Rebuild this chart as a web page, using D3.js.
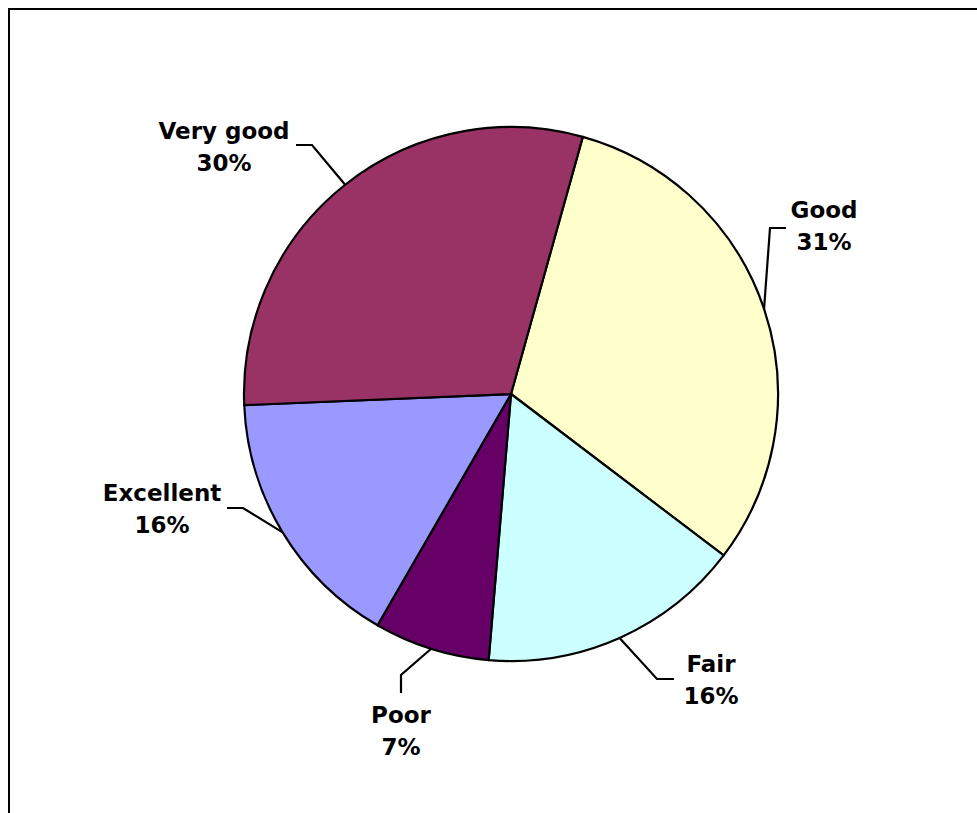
<!DOCTYPE html>
<html>
<head>
<meta charset="utf-8">
<script src="https://cdn.jsdelivr.net/npm/d3@7"></script>
<style>
  html, body { margin: 0; padding: 0; background: #fff; }
  svg { display: block; }
</style>
</head>
<body>
<svg id="chart" width="977" height="813"></svg>
<script>
// Self-rated health: share of respondents per category
const categories = ["Good", "Fair", "Poor", "Excellent", "Very good"];
const shares = [31, 16, 7, 16, 30];
const sliceColors = ["#FFFFCC", "#CCFFFF", "#660066", "#9999FF", "#993366"];

const W = 977, H = 813;
const cx = 511, cy = 394, R = 267;
const startDeg = 15.6;   // first slice ("Good") begins just right of 12 o'clock

// Label placement, relative to the pie centre: text anchor, leader elbow and leader end
const labelLayout = {
  "Very good": { tx: -287, ty: -255, elbow: [-199, -249], end: [-215, -249] },
  "Good":      { tx:  313, ty: -176, elbow: [ 259, -166], end: [ 275, -166] },
  "Excellent": { tx: -349, ty:  107, elbow: [-268,  114], end: [-284,  114] },
  "Poor":      { tx: -110, ty:  329, elbow: [-110,  281], end: [-110,  299] },
  "Fair":      { tx:  200, ty:  278, elbow: [ 146,  285], end: [ 163,  285] }
};

const svg = d3.select("#chart");

// Chart frame (top and left edges)
svg.append("path")
  .attr("d", `M9,${H} L9,9 L${W},9`)
  .attr("fill", "none")
  .attr("stroke", "#000")
  .attr("stroke-width", 2);

const data = categories.map((c, i) => ({ name: c, value: shares[i], color: sliceColors[i] }));

const start = startDeg * Math.PI / 180;
const pie = d3.pie()
  .value(d => d.value)
  .sort(null)
  .startAngle(start)
  .endAngle(start + 2 * Math.PI);

const arc = d3.arc().innerRadius(0).outerRadius(R);
const arcs = pie(data);

const g = svg.append("g").attr("transform", `translate(${cx},${cy})`);

g.selectAll("path.slice")
  .data(arcs)
  .join("path")
  .attr("class", "slice")
  .attr("d", arc)
  .attr("fill", d => d.data.color)
  .attr("stroke", "#000")
  .attr("stroke-width", 2.2)
  .attr("stroke-linejoin", "round");

// Leader lines from each slice's mid-arc point to its label
const edgePoint = d => {
  const a = (d.startAngle + d.endAngle) / 2;
  return [R * Math.sin(a), -R * Math.cos(a)];
};

g.selectAll("path.leader")
  .data(arcs)
  .join("path")
  .attr("class", "leader")
  .attr("fill", "none")
  .attr("stroke", "#000")
  .attr("stroke-width", 2.2)
  .attr("d", d => {
    const L = labelLayout[d.data.name];
    const p = edgePoint(d);
    return d3.line()([p, L.elbow, L.end]);
  });

// Labels: category name and percentage
const labels = g.selectAll("text.lbl")
  .data(arcs)
  .join("text")
  .attr("class", "lbl")
  .attr("text-anchor", "middle")
  .attr("font-family", "'DejaVu Sans', Verdana, sans-serif")
  .attr("font-weight", "bold")
  .attr("font-size", 23)
  .attr("fill", "#000");

labels.append("tspan")
  .attr("x", d => labelLayout[d.data.name].tx)
  .attr("y", d => labelLayout[d.data.name].ty)
  .text(d => d.data.name);

labels.append("tspan")
  .attr("x", d => labelLayout[d.data.name].tx)
  .attr("y", d => labelLayout[d.data.name].ty + 32)
  .text(d => d.data.value + "%");
</script>
</body>
</html>
